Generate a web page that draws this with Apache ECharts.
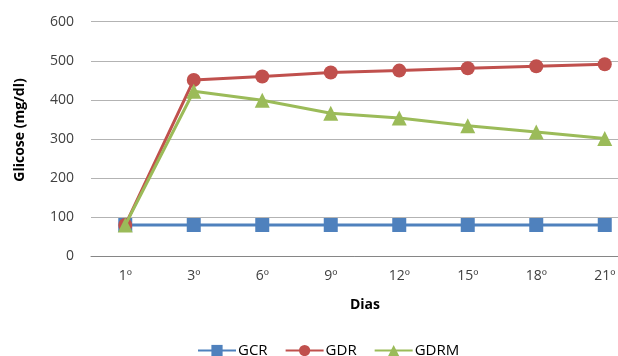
<!DOCTYPE html>
<html><head><meta charset="utf-8">
<script src="https://cdn.jsdelivr.net/npm/echarts@6/dist/echarts.min.js"></script>
<style>html,body{margin:0;padding:0;background:#fff}#c{width:618px;height:356px}</style>
</head><body><div id="c"></div>
<script>
const categories = ['1º','3º','6º','9º','12º','15º','18º','21º'];
const gcr  = [80, 80, 80, 80, 80, 80, 80, 80];
const gdr  = [80, 451, 460, 470, 475, 481, 486, 491];
const gdrm = [80, 422, 399, 366, 354, 334, 318, 301];
const yTicks = [0, 100, 200, 300, 400, 500, 600];

const font = 'Open Sans, Arial, sans-serif';
const chart = echarts.init(document.getElementById('c'), null, {renderer:'canvas'});
chart.setOption({
  animation:false,
  grid:{left:91, width:548, top:21.7, height:234.6, outerBoundsMode:'none', containLabel:false},
  xAxis:{type:'category', data:categories, boundaryGap:true,
    name:'Dias', nameLocation:'middle', nameGap:42,
    nameTextStyle:{fontFamily:font, fontWeight:'bold', fontSize:14, color:'#000'},
    axisLine:{lineStyle:{color:'#868686', width:1}}, axisTick:{show:false},
    axisLabel:{fontFamily:font, fontSize:14, color:'#404040', margin:13}},
  yAxis:{type:'value', min:yTicks[0], max:yTicks[yTicks.length-1], interval:100,
    name:'Glicose (mg/dl)', nameLocation:'middle', nameGap:64, nameRotate:90,
    nameTextStyle:{fontFamily:font, fontWeight:'bold', fontSize:14, color:'#000', padding:[0,0,0,18]},
    axisLine:{show:false}, axisTick:{show:false},
    splitLine:{lineStyle:{color:'#b3b3b3', width:1}},
    axisLabel:{fontFamily:font, fontSize:14, color:'#404040', margin:17}},
  legend:{top:338, left:192, itemWidth:38, itemHeight:14, itemGap:17,
    textStyle:{fontFamily:font, fontSize:15, color:'#000', padding:[0,0,0,-3]},
    data:['GCR','GDR','GDRM']},
  series:[
    {name:'GCR', type:'line', data:gcr, symbol:'rect', symbolSize:14,
      lineStyle:{color:'#4f81bd', width:3}, itemStyle:{color:'#4f81bd'}, z:2},
    {name:'GDR', type:'line', data:gdr, symbol:'circle', symbolSize:14,
      lineStyle:{color:'#c0504d', width:3}, itemStyle:{color:'#c0504d'}, z:3},
    {name:'GDRM', type:'line', data:gdrm, symbol:'triangle', symbolSize:15,
      lineStyle:{color:'#9bbb59', width:3}, itemStyle:{color:'#9bbb59'}, z:4}
  ]
});
</script></body></html>
